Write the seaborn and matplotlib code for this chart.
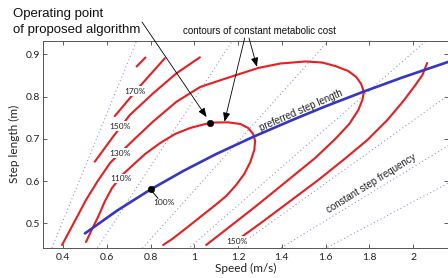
import numpy as np
import pandas as pd
import matplotlib
matplotlib.use("Agg")
import matplotlib.pyplot as plt
import seaborn as sns

# ---------------- data ----------------
# preferred step length curve
pref_speed = [0.50, 0.65, 0.80, 0.95, 1.10, 1.275, 1.45, 1.60, 1.773, 1.95, 2.16]
pref_step = [0.476, 0.531, 0.580, 0.624, 0.664, 0.706, 0.745, 0.777, 0.8115, 0.845, 0.882]

# constant step frequency lines (step length = speed / frequency)
step_freqs = [0.79, 1.26, 1.73, 2.21, 2.69, 3.16, 3.63]

# metabolic-cost contours (speed, step length)
c110_speed = [0.505, 0.533, 0.560, 0.592, 0.624, 0.670, 0.720, 0.775, 0.844, 0.912, 0.981, 1.050,
              1.095, 1.155, 1.210, 1.246, 1.269, 1.278, 1.274, 1.256, 1.228, 1.191, 1.146, 1.091,
              1.027, 0.958, 0.899, 0.8575]
c110_step = [0.4557, 0.4865, 0.5149, 0.5528, 0.5836, 0.6143, 0.638, 0.664, 0.690, 0.7114, 0.7256,
             0.735, 0.7386, 0.739, 0.735, 0.7256, 0.7114, 0.6948, 0.6735, 0.645, 0.6167, 0.5906,
             0.5646, 0.541, 0.5149, 0.4865, 0.4628, 0.4486]

c130_speed = [0.3954, 0.432, 0.4686, 0.505, 0.5556, 0.615, 0.670, 0.7294, 0.8118, 0.917, 1.0268,
              1.0954, 1.164, 1.292, 1.393, 1.5065, 1.584, 1.6435, 1.703, 1.740, 1.7625, 1.7748,
              1.768, 1.7496, 1.7084, 1.6444, 1.5529, 1.4294, 1.283, 1.1366, 1.0542]
c130_step = [0.4486, 0.4841, 0.5196, 0.5552, 0.5978, 0.6428, 0.6712, 0.7008, 0.7410, 0.7872,
             0.8227, 0.8345, 0.8463, 0.8676, 0.8782, 0.883, 0.8806, 0.8723, 0.8605, 0.8463,
             0.8297, 0.8108, 0.792, 0.7684, 0.7353, 0.6998, 0.6548, 0.6027, 0.5411, 0.4818, 0.4486]

c150a_speed = [0.545, 0.6288, 0.7052, 0.8118, 0.9183, 1.0254]
c150a_step = [0.6458, 0.705, 0.7563, 0.8077, 0.855, 0.8929]
c150b_speed = [1.1915, 1.2176, 1.3104, 1.4385, 1.5666, 1.681, 1.7908, 1.8823, 1.9555, 2.0104,
               2.0424, 2.0639]
c150b_step = [0.451, 0.4683, 0.5031, 0.5528, 0.6025, 0.6499, 0.6972, 0.7446, 0.7896, 0.8274,
              0.8511, 0.8794]

c170_speed = [0.6365, 0.750, 0.8653]
c170_step = [0.7537, 0.8238, 0.8906]

c190_speed = [0.7363, 0.7765]
c190_step = [0.8711, 0.8924]

# labels
contour_labels = ["170%", "150%", "130%", "110%", "150%"]
label_speed = [0.729, 0.661, 0.662, 0.667, 1.194]
label_step = [0.813, 0.730, 0.666, 0.6065, 0.458]

op_speed, op_step = 1.071, 0.737      # operating point of proposed algorithm
min_speed, min_step = 0.80, 0.5805    # 100% point

x_ticks = [0.4, 0.6, 0.8, 1.0, 1.2, 1.4, 1.6, 1.8, 2.0]
x_ticklabels = ["0.4", "0.6", "0.8", "1", "1.2", "1.4", "1.6", "1.8", "2"]
y_ticks = [0.5, 0.6, 0.7, 0.8, 0.9]
y_ticklabels = ["0.5", "0.6", "0.7", "0.8", "0.9"]

# ---------------- style ----------------
sns.set_theme(style="ticks")
plt.rcParams["font.family"] = ["Lato", "DejaVu Sans"]

RED = "#ee1c1c"
BLUE = "#3535c8"
DOT = "#8a8ae6"

W, H = 448, 278
fig = plt.figure(figsize=(W / 100, H / 100), dpi=100)
ax = fig.add_axes([43 / W, 1 - 247.5 / H, (447.5 - 43) / W, (247.5 - 41) / H])
ax.set_xlim(0.3085, 2.157)
ax.set_ylim(0.4427, 0.9315)

# dotted constant frequency lines
for f in step_freqs:
    v = np.array([0.0, 2.3])
    sns.lineplot(x=v, y=v / f, ax=ax, color=DOT, lw=0.75, linestyle=(0, (1, 2.6)),
                 sort=False, estimator=None, legend=False)

# contours
for xs, ys in [(c110_speed, c110_step), (c130_speed, c130_step), (c150a_speed, c150a_step),
               (c150b_speed, c150b_step), (c170_speed, c170_step), (c190_speed, c190_step)]:
    sns.lineplot(x=xs, y=ys, ax=ax, color=RED, lw=1.5, sort=False, estimator=None, legend=False)
for ln in ax.lines:
    ln.set_solid_joinstyle("round")
    ln.set_solid_capstyle("round")

# preferred step length
sns.lineplot(x=pref_speed, y=pref_step, ax=ax, color=BLUE, lw=1.9, sort=False,
             estimator=None, legend=False)

for t, xv, yv in zip(contour_labels, label_speed, label_step):
    ax.text(xv, yv, t, fontsize=6, ha="center", va="center", color="#222222",
            bbox=dict(boxstyle="square,pad=0.15", fc="white", ec="none"), zorder=5)

# points
sns.scatterplot(x=[min_speed, op_speed], y=[min_step, op_step], ax=ax, color="black",
                s=22, edgecolor="black", zorder=6, legend=False)
ax.plot([0.808, 0.834], [0.575, 0.559], color="black", lw=0.7, zorder=6)
ax.text(0.862, 0.549, "100%", fontsize=6, ha="center", va="center", color="#222222", zorder=6)

# annotation texts
arial = ["Liberation Sans", "DejaVu Sans"]
ax.text(1.49, 0.768, "preferred step length", family=arial, fontsize=7, rotation=23.6,
        rotation_mode="anchor", ha="center", va="center", color="#222222")
ax.text(1.811, 0.5947, "constant step frequency", family=arial, fontsize=7, rotation=31.8,
        rotation_mode="anchor", ha="center", va="center", color="#222222")

fig.text(13 / W, 1 - 14 / H, "Operating point", family=arial, fontsize=9.5, ha="left",
         va="center", color="#111111")
fig.text(13 / W, 1 - 29.5 / H, "of proposed algorithm", family=arial, fontsize=9.5, ha="left",
         va="center", color="#111111")
fig.text(183 / W, 1 - 31 / H, "contours of constant metabolic cost", family=arial, fontsize=7,
         ha="left", va="center", color="#111111")

arrow = dict(arrowstyle="-|>,head_length=0.45,head_width=0.18", color="black", lw=0.6,
             shrinkA=0, shrinkB=0)
ax.annotate("", xy=(1.056, 0.7514), xycoords="data", xytext=(142 / W, 1 - 22 / H),
            textcoords="figure fraction", arrowprops=arrow, annotation_clip=False)
ax.annotate("", xy=(1.138, 0.7405), xycoords="data", xytext=(244.7 / W, 1 - 38 / H),
            textcoords="figure fraction", arrowprops=arrow, annotation_clip=False)
ax.annotate("", xy=(1.286, 0.8706), xycoords="data", xytext=(249 / W, 1 - 38 / H),
            textcoords="figure fraction", arrowprops=arrow, annotation_clip=False)

# axes styling
ax.set_xticks(x_ticks)
ax.set_xticklabels(x_ticklabels)
ax.set_yticks(y_ticks)
ax.set_yticklabels(y_ticklabels)
ax.tick_params(direction="in", top=True, right=True, length=3, width=0.6, labelsize=7.5,
               colors="#444444", labelcolor="#222222")
ax.tick_params(axis="x", pad=4)
ax.tick_params(axis="y", pad=2)
for s in ax.spines.values():
    s.set_linewidth(0.7)
    s.set_color("#555555")
ax.set_xlabel("Speed (m/s)", fontsize=8.5, labelpad=1, color="#222222")
ax.set_ylabel("Step length (m)", fontsize=8.5, labelpad=4, color="#222222")

fig.savefig("out.png", dpi=100)
